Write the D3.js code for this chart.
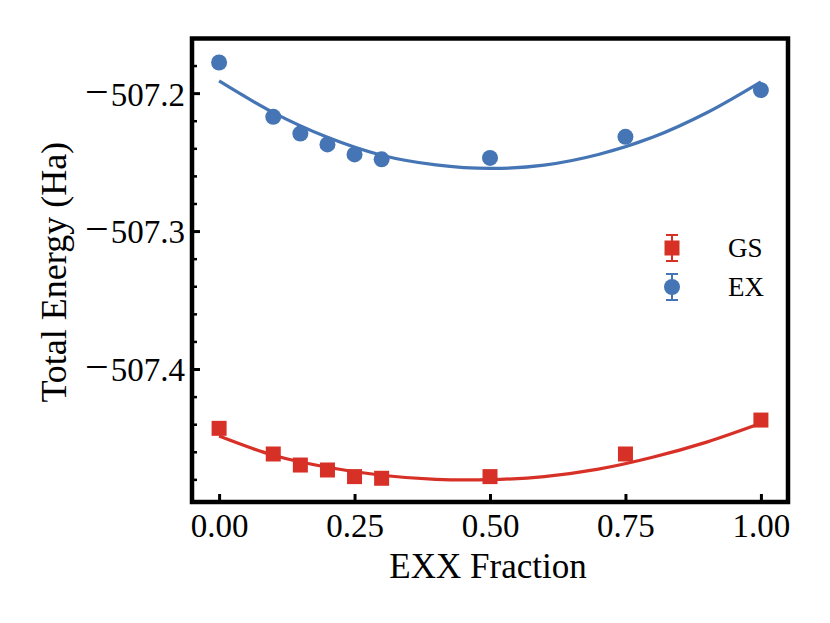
<!DOCTYPE html>
<html>
<head>
<meta charset="utf-8">
<script src="https://cdn.jsdelivr.net/npm/d3@7"></script>
<style>
  body { margin: 0; background: #fff; }
</style>
</head>
<body>
<div id="chart"></div>
<script>
// EXX fractions where the energies were computed
const exxFraction = [0, 0.1, 0.15, 0.2, 0.25, 0.3, 0.5, 0.75, 1.0];
// ground state and excited state total energies (Ha)
const gsEnergy = [-507.4430, -507.4616, -507.4696, -507.4732, -507.4780, -507.4792, -507.4780, -507.4616, -507.4370];
const exEnergy = [-507.1778, -507.2172, -507.2293, -507.2372, -507.2444, -507.2480, -507.2470, -507.2317, -507.1978];

// fitted curves
const fitX = [0, 0.1, 0.2, 0.3, 0.4, 0.5, 0.6, 0.7, 0.8, 0.9, 1.0];
const gsFit = [-507.4486, -507.4625, -507.4712, -507.4770, -507.4800, -507.4802, -507.4780, -507.4726, -507.4640, -507.4530, -507.4394];
const exFit = [-507.1912, -507.2141, -507.2320, -507.2450, -507.2520, -507.2546, -507.2522, -507.2445, -507.2320, -507.2142, -507.1918];

const xTicks = [0, 0.25, 0.5, 0.75, 1.0];
const yMajorTicks = [-507.4, -507.3, -507.2];
const yMinorTicks = [-507.48, -507.46, -507.44, -507.42, -507.38, -507.36, -507.34, -507.32,
                     -507.28, -507.26, -507.24, -507.22, -507.18];

const series = [
  { name: "GS", values: gsEnergy, fit: gsFit, color: "#d73027", shape: "square" },
  { name: "EX", values: exEnergy, fit: exFit, color: "#4575b4", shape: "circle" }
];

const width = 830, height = 623;
const plotLeft = 192, plotRight = 788, plotTop = 38.5, plotBottom = 502;
const serif = "'Liberation Serif', 'Times New Roman', Times, 'DejaVu Serif', serif";

const svg = d3.select("#chart").append("svg")
  .attr("width", width).attr("height", height)
  .style("font-family", serif);

const x = d3.scaleLinear().domain([-0.05, 1.05]).range([plotLeft, plotRight]);
const y = d3.scaleLinear().domain([-507.4964, -507.1604]).range([plotBottom, plotTop]);

// axes, ticks pointing inward
const fmtX = d3.format(".2f");
const fmtY = v => "\u2212" + d3.format(".1f")(-v);

const xAxis = svg.append("g").attr("transform", `translate(0,${plotBottom})`)
  .call(d3.axisBottom(x).tickValues(xTicks).tickSize(-8).tickFormat(fmtX));
xAxis.attr("font-family", serif);
xAxis.select(".domain").remove();
xAxis.selectAll(".tick line").attr("stroke", "#000").attr("stroke-width", 3);
xAxis.selectAll(".tick text").attr("font-size", 33).attr("dy", "0.71em").attr("y", 12);

const yMinor = svg.append("g").attr("transform", `translate(${plotLeft},0)`)
  .call(d3.axisLeft(y).tickValues(yMinorTicks).tickSize(-5).tickFormat(""));
yMinor.select(".domain").remove();
yMinor.selectAll(".tick line").attr("stroke", "#000").attr("stroke-width", 2.5);

const yAxis = svg.append("g").attr("transform", `translate(${plotLeft},0)`)
  .call(d3.axisLeft(y).tickValues(yMajorTicks).tickSize(-8).tickFormat(fmtY));
yAxis.attr("font-family", serif);
yAxis.select(".domain").remove();
yAxis.selectAll(".tick line").attr("stroke", "#000").attr("stroke-width", 3);
// wider minus sign, like the math font of the original
yAxis.selectAll(".tick text")
  .attr("font-size", 33).attr("x", -7).attr("dy", "0.36em")
  .each(function(d) {
    const t = d3.select(this).text(null);
    t.append("tspan").attr("font-size", 42).text("\u2212");
    t.append("tspan").attr("dx", 2).text(d3.format(".1f")(-d));
  });

// fit lines
const line = d3.line()
  .x((d, i) => x(fitX[i]))
  .y(d => y(d))
  .curve(d3.curveCatmullRom);

series.forEach(s => {
  svg.append("path")
    .attr("d", line(s.fit))
    .attr("fill", "none")
    .attr("stroke", s.color)
    .attr("stroke-width", 3.2);
});

// markers
function drawMarker(g, s, cx, cy) {
  if (s.shape === "circle") {
    g.append("circle").attr("cx", cx).attr("cy", cy).attr("r", 8).attr("fill", s.color);
  } else {
    g.append("rect").attr("x", cx - 7.5).attr("y", cy - 7.5)
      .attr("width", 15).attr("height", 15).attr("fill", s.color);
  }
}

series.forEach(s => {
  const g = svg.append("g");
  s.values.forEach((v, i) => drawMarker(g, s, x(exxFraction[i]), y(v)));
});

// frame
svg.append("rect")
  .attr("x", plotLeft).attr("y", plotTop)
  .attr("width", plotRight - plotLeft).attr("height", plotBottom - plotTop)
  .attr("fill", "none").attr("stroke", "#000").attr("stroke-width", 4.5);

// legend
const legend = svg.append("g");
series.forEach((s, i) => {
  const cx = 672, cy = 248 + i * 39;
  const g = legend.append("g");
  g.append("line").attr("x1", cx).attr("x2", cx).attr("y1", cy - 13).attr("y2", cy + 13)
    .attr("stroke", s.color).attr("stroke-width", 2);
  [cy - 13, cy + 13].forEach(yy => g.append("line")
    .attr("x1", cx - 6).attr("x2", cx + 6).attr("y1", yy).attr("y2", yy)
    .attr("stroke", s.color).attr("stroke-width", 2));
  drawMarker(g, s, cx, cy);
  g.append("text").attr("x", 728).attr("y", cy).attr("dy", "0.35em")
    .attr("font-size", 27).text(s.name);
});

// axis titles
svg.append("text")
  .attr("x", (plotLeft + plotRight) / 2 - 2).attr("y", 578)
  .attr("text-anchor", "middle").attr("font-size", 35)
  .text("EXX Fraction");

svg.append("text")
  .attr("transform", `translate(66,${(plotTop + plotBottom) / 2 + 2}) rotate(-90)`)
  .attr("text-anchor", "middle").attr("font-size", 36)
  .text("Total Energy (Ha)");
</script>
</body>
</html>
